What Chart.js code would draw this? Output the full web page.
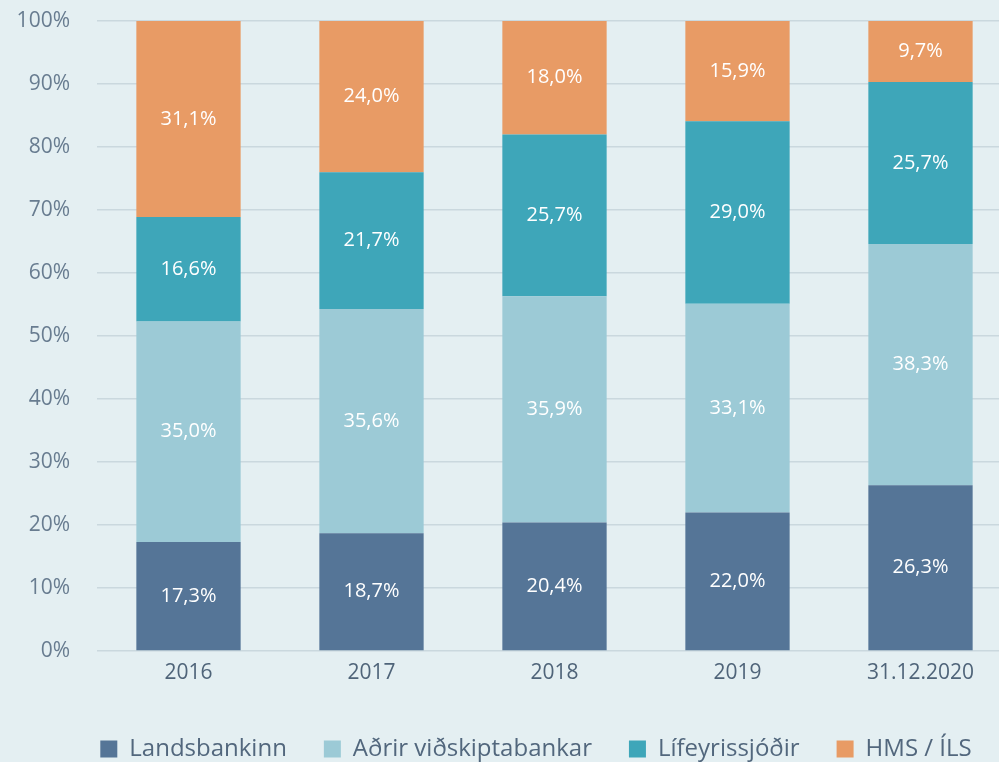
<!DOCTYPE html>
<html>
<head>
<meta charset="utf-8">
<script src="https://cdn.jsdelivr.net/npm/chart.js@4"></script>
<style>
  html, body { margin: 0; padding: 0; background: #e4eff2; overflow: hidden; }
  #wrap { width: 1012px; height: 762px; }
</style>
</head>
<body>
<div id="wrap"><canvas id="chart" width="1012" height="762"></canvas></div>
<script>
const years = ['2016', '2017', '2018', '2019', '31.12.2020'];
const landsbankinn = [17.3, 18.7, 20.4, 22.0, 26.3];
const adrirBankar = [35.0, 35.6, 35.9, 33.1, 38.3];
const lifeyrissjodir = [16.6, 21.7, 25.7, 29.0, 25.7];
const hmsIls = [31.1, 24.0, 18.0, 15.9, 9.7];
const yTicks = [0, 10, 20, 30, 40, 50, 60, 70, 80, 90, 100];

const font = "'Open Sans', sans-serif";

// tölur inni í súlunum
const barLabels = {
    id: 'barLabels',
    afterDatasetsDraw(chart) {
        const ctx = chart.ctx;
        ctx.save();
        ctx.fillStyle = '#ffffff';
        ctx.font = `20px ${font}`;
        ctx.textAlign = 'center';
        ctx.textBaseline = 'middle';
        chart.data.datasets.forEach((ds, i) => {
            chart.getDatasetMeta(i).data.forEach((bar, j) => {
                const p = bar.getProps(['x', 'y', 'base'], true);
                const label = ds.data[j].toFixed(1).replace('.', ',') + '%';
                ctx.fillText(label, p.x, (p.y + p.base) / 2);
            });
        });
        ctx.restore();
    }
};

// færa skýringar aðeins til hægri
const legendShift = {
    id: 'legendShift',
    afterLayout(chart) {
        const l = chart.legend;
        l.left += 30; l.right += 30;
    }
};

const ctx = document.getElementById('chart').getContext('2d');
new Chart(ctx, {
    type: 'bar',
    data: {
        labels: years,
        datasets: [
            { label: 'Landsbankinn', data: landsbankinn, backgroundColor: '#557597' },
            { label: 'Aðrir viðskiptabankar', data: adrirBankar, backgroundColor: '#9ccad6' },
            { label: 'Lífeyrissjóðir', data: lifeyrissjodir, backgroundColor: '#3ea6b9' },
            { label: 'HMS / ÍLS', data: hmsIls, backgroundColor: '#e89b65' }
        ]
    },
    options: {
        responsive: false,
        animation: false,
        layout: { padding: { top: 21, bottom: -9, left: 0, right: 0 } },
        datasets: { bar: { barPercentage: 0.57, categoryPercentage: 1 } },
        scales: {
            x: {
                stacked: true,
                afterFit: (scale) => { scale.height = 49; },
                grid: { display: false },
                border: { display: false },
                ticks: { color: '#4f6479', font: { family: font, size: 21 }, padding: 1 }
            },
            y: {
                stacked: true,
                min: 0,
                max: 100,
                afterFit: (scale) => {
                    scale.width = 97;
                    scale.paddingTop = 0;
                    scale.paddingBottom = 0;
                },
                afterBuildTicks: (scale) => { scale.ticks = yTicks.map(v => ({ value: v })); },
                grid: { color: '#cad8de', lineWidth: 1.5, drawTicks: false },
                border: { display: false },
                ticks: {
                    color: '#687c90',
                    font: { family: font, size: 21 },
                    padding: 27,
                    callback: (v) => v + '%'
                }
            }
        },
        plugins: {
            tooltip: { enabled: false },
            legend: {
                position: 'bottom',
                labels: {
                    color: '#52677d',
                    font: { family: font, size: 24 },
                    boxWidth: 17,
                    boxHeight: 17,
                    padding: 37
                }
            }
        }
    },
    plugins: [barLabels, legendShift]
});
</script>
</body>
</html>
